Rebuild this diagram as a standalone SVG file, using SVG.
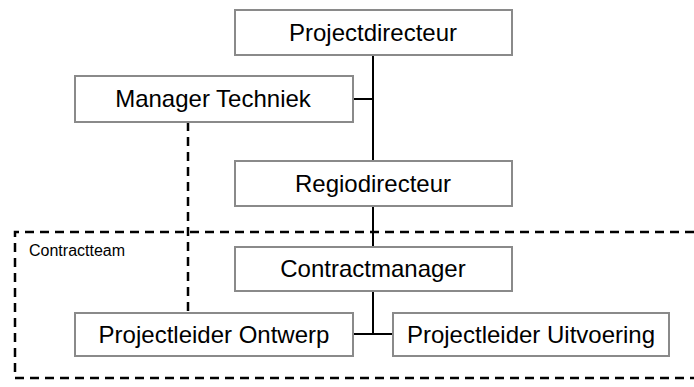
<svg xmlns="http://www.w3.org/2000/svg" width="694" height="387" viewBox="0 0 694 387">
  <style>
    .box { fill: #ffffff; stroke: #8a8a8a; stroke-width: 2; }
    .lbl { font-family: "Liberation Sans", Arial, sans-serif; font-size: 24px; fill: #000; text-anchor: middle; }
    .link { stroke: #000; stroke-width: 2; fill: none; }
    .dash { stroke: #000; stroke-width: 2.5; fill: none; stroke-dasharray: 9 6; }
    .team { font-family: "Liberation Sans", Arial, sans-serif; font-size: 16px; fill: #000; }
  </style>
  <rect width="694" height="387" fill="#ffffff"/>

  <!-- Contract team boundary -->
  <g id="contractteam">
    <path class="dash" d="M694,232 H15 V378 H694"/>
    <text class="team" x="29" y="256">Contractteam</text>
  </g>

  <!-- Connectors -->
  <g id="connectors">
    <path class="link" d="M373,55 V160"/>
    <path class="link" d="M353,99 H373"/>
    <path class="link" d="M373,206 V247"/>
    <path class="link" d="M373,291 V334"/>
    <path class="link" d="M353,334 H393"/>
    <path class="dash" d="M188,122 V313"/>
  </g>

  <g id="projectdirecteur">
    <rect class="box" x="235" y="10" width="277" height="45"/>
    <text class="lbl" x="373" y="41">Projectdirecteur</text>
  </g>
  <g id="manager-techniek">
    <rect class="box" x="75" y="76" width="278" height="46"/>
    <text class="lbl" x="213" y="107">Manager Techniek</text>
  </g>
  <g id="regiodirecteur">
    <rect class="box" x="235" y="161" width="277" height="45"/>
    <text class="lbl" x="373" y="192">Regiodirecteur</text>
  </g>
  <g id="contractmanager">
    <rect class="box" x="235" y="247" width="277" height="44"/>
    <text class="lbl" x="373" y="277">Contractmanager</text>
  </g>
  <g id="projectleider-ontwerp">
    <rect class="box" x="75" y="313" width="278" height="43"/>
    <text class="lbl" x="214" y="343">Projectleider Ontwerp</text>
  </g>
  <g id="projectleider-uitvoering">
    <rect class="box" x="393" y="313" width="276" height="43"/>
    <text class="lbl" x="531" y="343">Projectleider Uitvoering</text>
  </g>
</svg>
